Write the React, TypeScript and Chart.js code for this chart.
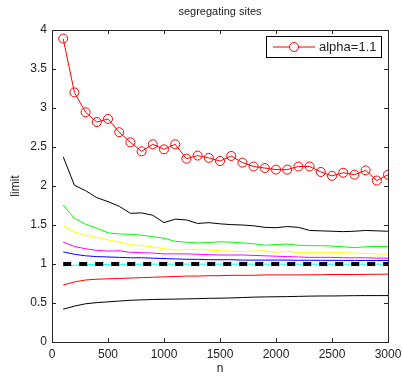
import React, { useEffect, useRef } from "react";
import { Chart, registerables } from "chart.js";

Chart.register(...registerables);

const nValues = [100, 200, 300, 400, 500, 600, 700, 800, 900, 1000, 1100, 1200, 1300, 1400, 1500, 1600, 1700, 1800, 1900, 2000, 2100, 2200, 2300, 2400, 2500, 2600, 2700, 2800, 2900, 3000];

const alpha11 = [3.89, 3.2, 2.945, 2.82, 2.86, 2.69, 2.56, 2.445, 2.535, 2.47, 2.535, 2.35, 2.39, 2.36, 2.32, 2.385, 2.3, 2.25, 2.23, 2.21, 2.21, 2.25, 2.25, 2.18, 2.13, 2.17, 2.145, 2.2, 2.07, 2.145];
const blackUpper = [2.375, 2.01, 1.94, 1.85, 1.8, 1.74, 1.65, 1.655, 1.625, 1.53, 1.575, 1.565, 1.52, 1.53, 1.515, 1.505, 1.5, 1.49, 1.47, 1.465, 1.48, 1.47, 1.43, 1.425, 1.42, 1.415, 1.42, 1.43, 1.425, 1.42];
const greenLine = [1.755, 1.585, 1.51, 1.46, 1.4, 1.385, 1.38, 1.37, 1.35, 1.33, 1.29, 1.28, 1.27, 1.275, 1.285, 1.28, 1.27, 1.26, 1.24, 1.25, 1.255, 1.24, 1.235, 1.235, 1.23, 1.22, 1.21, 1.22, 1.225, 1.225];
const yellowLine = [1.49, 1.41, 1.37, 1.34, 1.31, 1.28, 1.25, 1.235, 1.22, 1.195, 1.18, 1.185, 1.19, 1.18, 1.17, 1.165, 1.16, 1.165, 1.17, 1.15, 1.165, 1.145, 1.15, 1.15, 1.15, 1.145, 1.14, 1.135, 1.13, 1.125];
const magentaLine = [1.28, 1.225, 1.195, 1.175, 1.165, 1.17, 1.15, 1.145, 1.14, 1.13, 1.13, 1.13, 1.125, 1.12, 1.115, 1.115, 1.115, 1.11, 1.105, 1.1, 1.095, 1.09, 1.085, 1.085, 1.085, 1.08, 1.08, 1.08, 1.075, 1.075];
const blueLine = [1.155, 1.125, 1.105, 1.095, 1.09, 1.085, 1.08, 1.08, 1.075, 1.07, 1.065, 1.06, 1.06, 1.055, 1.055, 1.055, 1.05, 1.05, 1.05, 1.05, 1.05, 1.048, 1.048, 1.047, 1.047, 1.046, 1.046, 1.045, 1.045, 1.045];
const cyanLine = [0.975, 0.985, 0.99, 0.993, 0.995, 0.996, 0.997, 0.997, 0.998, 0.998, 0.998, 0.998, 0.998, 0.998, 0.998, 0.998, 0.998, 0.998, 0.998, 0.998, 0.998, 0.998, 0.998, 0.998, 0.998, 0.998, 0.998, 0.998, 0.998, 0.998];
const dashedLimit = [1, 1, 1, 1, 1, 1, 1, 1, 1, 1, 1, 1, 1, 1, 1, 1, 1, 1, 1, 1, 1, 1, 1, 1, 1, 1, 1, 1, 1, 1];
const redLower = [0.73, 0.77, 0.795, 0.805, 0.81, 0.815, 0.82, 0.825, 0.83, 0.835, 0.84, 0.845, 0.845, 0.85, 0.85, 0.855, 0.855, 0.855, 0.86, 0.86, 0.86, 0.86, 0.862, 0.862, 0.865, 0.865, 0.865, 0.867, 0.868, 0.87];
const blackLower = [0.42, 0.46, 0.49, 0.505, 0.515, 0.525, 0.535, 0.54, 0.545, 0.548, 0.55, 0.553, 0.556, 0.56, 0.562, 0.565, 0.57, 0.575, 0.578, 0.58, 0.582, 0.585, 0.588, 0.59, 0.59, 0.592, 0.594, 0.595, 0.595, 0.595];

const xTicks = [0, 500, 1000, 1500, 2000, 2500, 3000];
const yTicks = [0, 0.5, 1, 1.5, 2, 2.5, 3, 3.5, 4];
const xTickLabels = ["0", "500", "1000", "1500", "2000", "2500", "3000"];
const yTickLabels = ["0", "0.5", "1", "1.5", "2", "2.5", "3", "3.5", "4"];
const titleText = "segregating sites";
const xLabel = "n";
const yLabel = "limit";
const legendLabel = "alpha=1.1";

const FONT = "'Liberation Sans', Arial, Helvetica, sans-serif";

function pts(values: number[]) {
  return values.map((v, i) => ({ x: nValues[i], y: v }));
}

const framePlugin = {
  id: "matlabFrame",
  afterDatasetsDraw(chart: any) {
    const { ctx, chartArea, scales } = chart;
    const { left, right, top, bottom } = chartArea;
    ctx.save();
    ctx.strokeStyle = "#262626";
    ctx.lineWidth = 1;
    ctx.strokeRect(Math.round(left) + 0.5, Math.round(top) + 0.5, Math.round(right - left), Math.round(bottom - top));
    const tl = 4;
    ctx.beginPath();
    for (const v of xTicks) {
      const px = Math.round(scales.x.getPixelForValue(v)) + 0.5;
      ctx.moveTo(px, bottom);
      ctx.lineTo(px, bottom - tl);
      ctx.moveTo(px, top);
      ctx.lineTo(px, top + tl);
    }
    for (const v of yTicks) {
      const py = Math.round(scales.y.getPixelForValue(v)) + 0.5;
      ctx.moveTo(left, py);
      ctx.lineTo(left + tl, py);
      ctx.moveTo(right, py);
      ctx.lineTo(right - tl, py);
    }
    ctx.stroke();

    // title
    ctx.fillStyle = "#222";
    ctx.font = `11px ${FONT}`;
    ctx.textAlign = "center";
    ctx.textBaseline = "middle";
    ctx.fillText(titleText, (left + right) / 2, 12);

    // legend box
    const bx = 266.5, by = 36.5, bw = 115, bh = 21;
    ctx.fillStyle = "#fff";
    ctx.fillRect(bx, by, bw, bh);
    ctx.strokeStyle = "#000";
    ctx.strokeRect(bx, by, bw, bh);
    const ly = by + bh / 2;
    ctx.strokeStyle = "#ff0000";
    ctx.beginPath();
    ctx.moveTo(273, ly);
    ctx.lineTo(315, ly);
    ctx.stroke();
    ctx.beginPath();
    ctx.arc(294, ly, 4.5, 0, Math.PI * 2);
    ctx.fillStyle = "#fff";
    ctx.fill();
    ctx.stroke();
    ctx.fillStyle = "#222";
    ctx.font = `13px ${FONT}`;
    ctx.textAlign = "left";
    ctx.textBaseline = "middle";
    ctx.fillText(legendLabel, 319, ly + 0.5);
    ctx.restore();
  },
};

export default function App() {
  const ref = useRef<HTMLCanvasElement | null>(null);
  useEffect(() => {
    if (!ref.current) return;
    const thin = (data: number[], color: string) => ({
      data: pts(data),
      borderColor: color,
      backgroundColor: color,
      borderWidth: 1,
      pointRadius: 0,
      tension: 0,
    });
    const chart = new Chart(ref.current, {
      type: "line",
      data: {
        datasets: [
          {
            label: legendLabel,
            data: pts(alpha11),
            borderColor: "#ff0000",
            backgroundColor: "rgba(0,0,0,0)",
            borderWidth: 1,
            pointRadius: 4.5,
            pointBorderWidth: 1,
            pointBorderColor: "#ff0000",
            pointBackgroundColor: "rgba(0,0,0,0)",
            tension: 0,
          },
          {
            label: "limit",
            data: pts(dashedLimit),
            borderColor: "#000",
            borderWidth: 4,
            borderDash: [8, 8],
            borderCapStyle: "butt",
            pointRadius: 0,
          },
          thin(cyanLine, "#00ffff"),
          thin(blueLine, "#0000ff"),
          thin(magentaLine, "#ff00ff"),
          thin(yellowLine, "#ffff00"),
          thin(greenLine, "#00ff00"),
          thin(redLower, "#ff0000"),
          thin(blackLower, "#000000"),
          thin(blackUpper, "#000000"),
        ] as any,
      },
      options: {
        animation: false,
        responsive: false,
        devicePixelRatio: 1,
        layout: { padding: { left: 0, right: 15, top: 30, bottom: 0 } },
        plugins: {
          legend: { display: false },
          title: { display: false },
          tooltip: { enabled: false },
        },
        scales: {
          x: {
            type: "linear",
            min: 0,
            max: 3000,
            afterFit: (s: any) => { s.height = 35; s.paddingLeft = 0; s.paddingRight = 0; },
            afterBuildTicks: (s: any) => { s.ticks = xTicks.map((v) => ({ value: v })); },
            grid: { display: false, drawTicks: false },
            border: { display: false },
            ticks: {
              color: "#222",
              font: { family: FONT, size: 12 },
              padding: 5,
              maxRotation: 0,
              autoSkip: false,
              callback: (_v: any, i: number) => xTickLabels[i],
            },
            title: { display: true, text: xLabel, color: "#222", font: { family: FONT, size: 12 }, padding: { top: 0, bottom: 1 } },
          },
          y: {
            type: "linear",
            min: 0,
            max: 4,
            afterFit: (s: any) => { s.width = 52; s.paddingTop = 0; s.paddingBottom = 0; },
            afterBuildTicks: (s: any) => { s.ticks = yTicks.map((v) => ({ value: v })); },
            grid: { display: false, drawTicks: false },
            border: { display: false },
            ticks: {
              color: "#222",
              font: { family: FONT, size: 12 },
              padding: 5,
              autoSkip: false,
              callback: (_v: any, i: number) => yTickLabels[i],
            },
            title: { display: true, text: yLabel, color: "#222", font: { family: FONT, size: 12 }, padding: { top: 8, bottom: 0 } },
          },
        },
      } as any,
      plugins: [framePlugin],
    });
    return () => chart.destroy();
  }, []);
  return (
    <div style={{ position: "fixed", left: 0, top: 0, width: 403, height: 377, background: "#fff" }}>
      <canvas ref={ref} width={403} height={377} style={{ display: "block" }} />
    </div>
  );
}
